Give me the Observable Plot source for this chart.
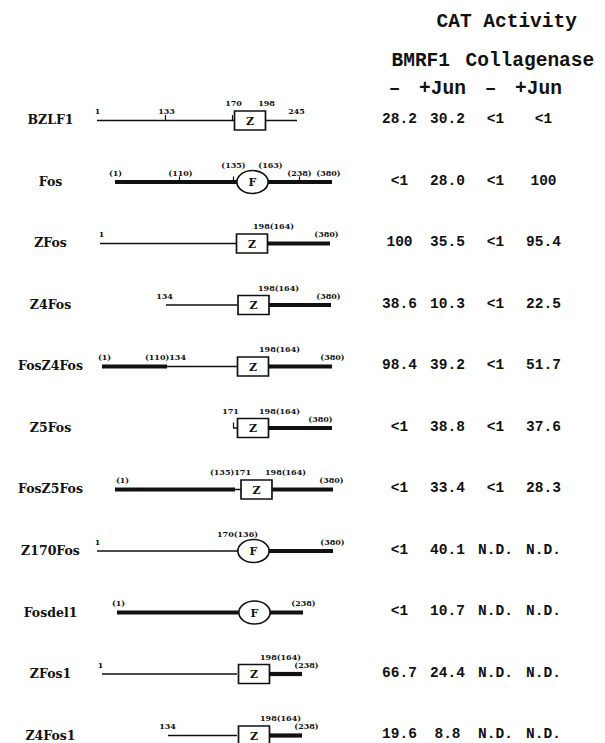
<!DOCTYPE html>
<html><head><meta charset="utf-8">
<script src="https://cdn.jsdelivr.net/npm/d3@7"></script>
<script src="https://cdn.jsdelivr.net/npm/@observablehq/plot@0.6"></script>
<style>
body{margin:0;background:#fff;}
#chart{display:flex;width:605px;height:743px;overflow:hidden;}
</style></head><body><div id="chart"></div>
<script>
// ---- data ----
const constructs = ["BZLF1","Fos","ZFos","Z4Fos","FosZ4Fos","Z5Fos","FosZ5Fos","Z170Fos","Fosdel1","ZFos1","Z4Fos1"];

// CAT activity table
const bmrf1Minus = ["28.2","<1","100","38.6","98.4","<1","<1","<1","<1","66.7","19.6"];
const bmrf1Jun   = ["30.2","28.0","35.5","10.3","39.2","38.8","33.4","40.1","10.7","24.4","8.8"];
const collMinus  = ["<1","<1","<1","<1","<1","<1","<1","N.D.","N.D.","N.D.","N.D."];
const collJun    = ["<1","100","95.4","22.5","51.7","37.6","28.3","N.D.","N.D.","N.D.","N.D."];
const columnKeys = ["BMRF1 –","BMRF1 +Jun","Collagenase –","Collagenase +Jun"];
const subHeaders = ["–","+Jun","–","+Jun"];

// schematic (diagram units): [construct, from, to, origin]  Z = BZLF1-derived, F = Fos-derived
const segments = [
  ["BZLF1",97,234,"Z"],["BZLF1",265,297,"Z"],
  ["Fos",115,237,"F"],["Fos",267,332,"F"],
  ["ZFos",100,236,"Z"],["ZFos",267,330,"F"],
  ["Z4Fos",166,237,"Z"],["Z4Fos",269,331,"F"],
  ["FosZ4Fos",102,167,"F"],["FosZ4Fos",167,237,"Z"],["FosZ4Fos",268,332,"F"],
  ["Z5Fos",233,237,"Z"],["Z5Fos",268,332,"F"],
  ["FosZ5Fos",115,235,"F"],["FosZ5Fos",235,241,"Z"],["FosZ5Fos",271,333,"F"],
  ["Z170Fos",97,238,"Z"],["Z170Fos",268,333,"F"],
  ["Fosdel1",117,238,"F"],["Fosdel1",270,303,"F"],
  ["ZFos1",102,237,"Z"],["ZFos1",270,302,"F"],
  ["Z4Fos1",168,237,"Z"],["Z4Fos1",270,302,"F"]
];
// dimerization domain: [construct, centre, type]
const domains = [
  ["BZLF1",249.5,"Z"],["Fos",252,"F"],["ZFos",251.5,"Z"],["Z4Fos",253,"Z"],
  ["FosZ4Fos",252.5,"Z"],["Z5Fos",252.5,"Z"],["FosZ5Fos",256,"Z"],["Z170Fos",253,"F"],
  ["Fosdel1",254,"F"],["ZFos1",253.5,"Z"],["Z4Fos1",253.5,"Z"]
];
// junction ticks: [construct, position]
const ticks = [["BZLF1",165],["BZLF1",232],["Fos",179],["Fos",233],["Fos",299],["Z5Fos",233]];
// residue labels: [construct, position, text, tier] tier 1 = on line, 2 = above domain
const residueLabels = [
  ["BZLF1",97,"1",1],["BZLF1",166,"133",1],["BZLF1",233,"170",2],["BZLF1",266,"198",2],["BZLF1",296,"245",1],
  ["Fos",115,"(1)",1],["Fos",180,"(110)",1],["Fos",233,"(135)",2],["Fos",270,"(163)",2],["Fos",299,"(238)",1],["Fos",328,"(380)",1],
  ["ZFos",101,"1",1],["ZFos",273,"198(164)",2],["ZFos",326,"(380)",1],
  ["Z4Fos",164,"134",1],["Z4Fos",278,"198(164)",2],["Z4Fos",328,"(380)",1],
  ["FosZ4Fos",104,"(1)",1],["FosZ4Fos",165,"(110)134",1],["FosZ4Fos",279,"198(164)",2],["FosZ4Fos",332,"(380)",1],
  ["Z5Fos",230,"171",2],["Z5Fos",279,"198(164)",2],["Z5Fos",320,"(380)",1],
  ["FosZ5Fos",122,"(1)",1],["FosZ5Fos",230,"(135)171",2],["FosZ5Fos",285,"198(164)",2],["FosZ5Fos",331,"(380)",1],
  ["Z170Fos",97,"1",1],["Z170Fos",237,"170(136)",2],["Z170Fos",332,"(380)",1],
  ["Fosdel1",118,"(1)",1],["Fosdel1",303,"(238)",1],
  ["ZFos1",100,"1",1],["ZFos1",280,"198(164)",2],["ZFos1",306,"(238)",1],
  ["Z4Fos1",167,"134",1],["Z4Fos1",280,"198(164)",2],["Z4Fos1",306,"(238)",1]
];
const title = "CAT Activity";
const groupHeaders = ["BMRF1","Collagenase"];

// ---- layout ----
const H = 743;
const row = new Map(constructs.map((c, i) => [c, i]));
const yScale = {type: "linear", domain: [-1.951, 10.13], range: [0, H], axis: null};
const MONO = "'Liberation Mono', 'Courier New', monospace";
const SERIF = "'DejaVu Serif', serif";

const boxSym = {draw(ctx, size) {
  const r = Math.sqrt(size / Math.PI), w = r * 1.63, h = r;
  ctx.moveTo(-w, -h); ctx.lineTo(w, -h); ctx.lineTo(w, h); ctx.lineTo(-w, h); ctx.closePath();
}};
const ellipseSym = {draw(ctx, size) {
  const r = Math.sqrt(size / Math.PI), rx = r * 1.36, ry = r, kx = rx * 0.5523, ky = ry * 0.5523;
  ctx.moveTo(rx, 0);
  ctx.bezierCurveTo(rx, ky, kx, ry, 0, ry);
  ctx.bezierCurveTo(-kx, ry, -rx, ky, -rx, 0);
  ctx.bezierCurveTo(-rx, -ky, -kx, -ry, 0, -ry);
  ctx.bezierCurveTo(kx, -ry, rx, -ky, rx, 0);
  ctx.closePath();
}};
const tickSym = {draw(ctx, size) {
  const r = Math.sqrt(size / Math.PI);
  ctx.moveTo(0, 0); ctx.lineTo(0, -r);
}};

const diagram = Plot.plot({
  width: 350, height: H,
  margin: 0,
  x: {type: "linear", domain: [0, 350], range: [0, 350], axis: null},
  y: yScale,
  marks: [
    Plot.text(constructs, {y: (d) => row.get(d), text: (d) => d, frameAnchor: "left", textAnchor: "middle", dx: 50, dy: 0,
      fontFamily: SERIF, fontWeight: "bold", fontSize: 12.5, fill: "#111"}),
    Plot.ruleY(segments.filter((d) => d[3] === "Z"), {y: (d) => row.get(d[0]), x1: (d) => d[1], x2: (d) => d[2], stroke: "#111", strokeWidth: 1.5}),
    Plot.ruleY(segments.filter((d) => d[3] === "F"), {y: (d) => row.get(d[0]), x1: (d) => d[1], x2: (d) => d[2], stroke: "#111", strokeWidth: 4.2}),
    Plot.dot(ticks, {x: (d) => d[1], y: (d) => row.get(d[0]), symbol: tickSym, r: 5.5, fill: "none", stroke: "#111", strokeWidth: 1.2}),
    Plot.dot(domains.filter((d) => d[2] === "Z"), {x: (d) => d[1], y: (d) => row.get(d[0]), symbol: boxSym, r: 9.5, fill: "white", stroke: "#111", strokeWidth: 1.7}),
    Plot.dot(domains.filter((d) => d[2] === "F"), {x: (d) => d[1], y: (d) => row.get(d[0]), symbol: ellipseSym, r: 11.5, fill: "white", stroke: "#111", strokeWidth: 1.7}),
    Plot.text(domains, {x: (d) => d[1], y: (d) => row.get(d[0]), text: (d) => d[2], dy: 0.5,
      fontFamily: SERIF, fontWeight: "bold", fontSize: 11, fill: "#111"}),
    Plot.text(residueLabels.filter((d) => d[3] === 1), {x: (d) => d[1], y: (d) => row.get(d[0]), text: (d) => d[2], dy: -9,
      fontFamily: SERIF, fontWeight: "bold", fontSize: 8, fill: "#111"}),
    Plot.text(residueLabels.filter((d) => d[3] === 2), {x: (d) => d[1], y: (d) => row.get(d[0]), text: (d) => d[2], dy: -17,
      fontFamily: SERIF, fontWeight: "bold", fontSize: 8, fill: "#111"})
  ]
});

const valueCols = [bmrf1Minus, bmrf1Jun, collMinus, collJun];
const cells = [];
constructs.forEach((c, i) => valueCols.forEach((col, j) => cells.push({row: i, col: columnKeys[j], v: col[i]})));

const table = Plot.plot({
  width: 255, height: H,
  margin: 0,
  x: {type: "point", domain: columnKeys, range: [25, 217], axis: null},
  y: yScale,
  marks: [
    Plot.text([title], {x: () => columnKeys[0], y: () => -1.626, text: (d) => d, textAnchor: "start", dx: 37,
      fontFamily: MONO, fontWeight: "bold", fontSize: 19.5, fill: "#111"}),
    Plot.text([groupHeaders[0]], {x: () => columnKeys[0], y: () => -0.992, text: (d) => d, textAnchor: "start", dx: -8,
      fontFamily: MONO, fontWeight: "bold", fontSize: 19.5, fill: "#111"}),
    Plot.text([groupHeaders[1]], {x: () => columnKeys[2], y: () => -0.992, text: (d) => d, textAnchor: "start", dx: -30,
      fontFamily: MONO, fontWeight: "bold", fontSize: 19.5, fill: "#111"}),
    Plot.text(columnKeys, {x: (d) => d, y: () => -0.537, text: (d, i) => subHeaders[i], dx: -5,
      fontFamily: MONO, fontWeight: "bold", fontSize: 19.5, fill: "#111"}),
    Plot.text(cells, {x: "col", y: "row", text: "v", dy: -2,
      fontFamily: MONO, fontWeight: "bold", fontSize: 14.5, fill: "#111"})
  ]
});

document.getElementById("chart").append(diagram, table);
</script>
</body></html>
